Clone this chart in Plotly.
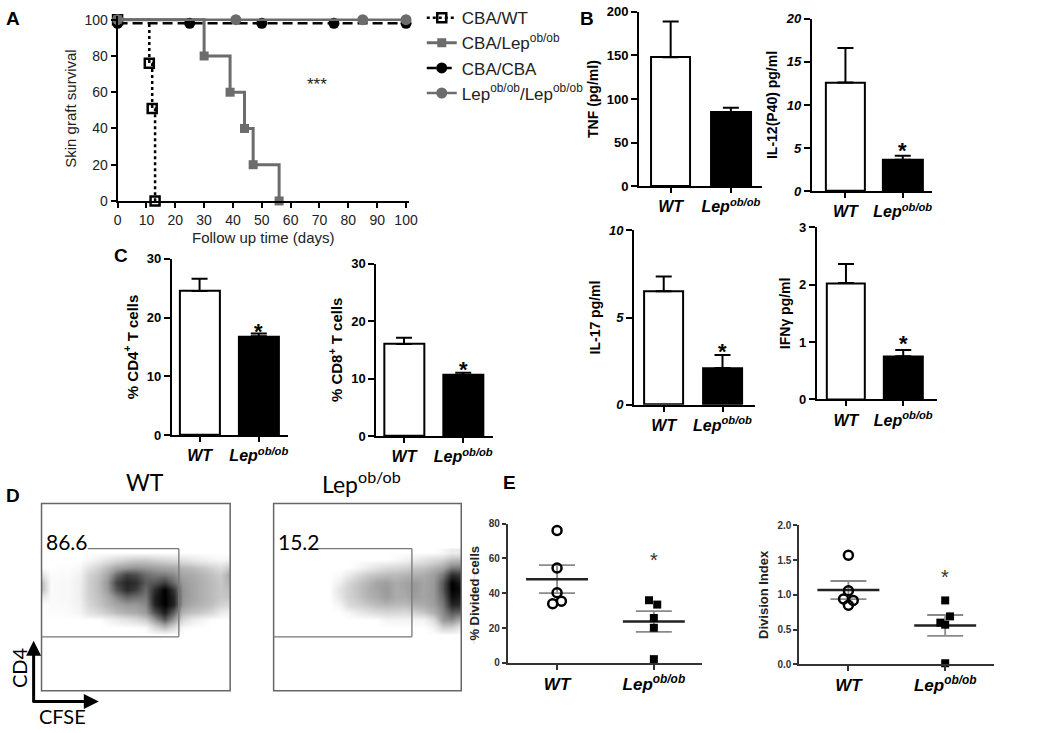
import plotly.graph_objects as go

W, H = 1050, 733
FONT = "Liberation Sans, Arial, sans-serif"

# ---------------- Panel A: skin graft survival ----------------
cba_wt_days = [0, 11, 12, 13]
cba_wt_surv = [100, 76, 51, 0]
cba_lep_days = [0, 30, 39, 44, 47, 56]
cba_lep_surv = [100, 80, 60, 40, 20, 0]
cba_cba_days = [0, 25, 50, 75, 100]
cba_cba_surv = [98, 98, 98, 98, 98]
lep_lep_days = [0, 41, 85, 100]
lep_lep_surv = [100, 100, 100, 100]
a_xticks = [0, 10, 20, 30, 40, 50, 60, 70, 80, 90, 100]
a_yticks = [0, 20, 40, 60, 80, 100]

# ---------------- Panels B, C: bar charts (mean, SEM) ----------------
groups = ["WT", "Lep<sup>ob/ob</sup>"]
tnf_mean, tnf_sem = [148, 85], [41, 5]
il12_mean, il12_sem = [12.6, 3.65], [4.0, 0.45]
il17_mean, il17_sem = [6.5, 2.1], [0.85, 0.75]
ifng_mean, ifng_sem = [2.03, 0.75], [0.33, 0.11]
cd4_mean, cd4_sem = [24.5, 16.8], [2.1, 0.5]
cd8_mean, cd8_sem = [16.0, 10.6], [1.1, 0.4]
tnf_ticks = [0, 50, 100, 150, 200]
il12_ticks = [0, 5, 10, 15, 20]
il17_ticks = [0, 5, 10]
ifng_ticks = [0, 1, 2, 3]
cd_ticks = [0, 10, 20, 30]

# ---------------- Panel D: flow density (grey level) ----------------
d_u = [0, 5, 10, 15, 20, 25, 30, 35, 40, 45, 50, 55, 60, 65, 70, 75, 80, 85, 90, 95, 100]
d_v = [30, 34, 38, 42, 46, 50, 54, 58, 62, 66, 70, 74]
wt_density = [
    [0] * 21,
    [0, 0, 0, 0, 0, 0, 0, 0, 0, 0, 0, 0.03, 0.2, 0.35, 0.2, 0.03, 0, 0, 0, 0, 0],
    [0, 0, 0, 0, 0, 0, 0, 0.05, 0.1, 0.15, 0.2, 0.28, 0.5, 0.7, 0.5, 0.22, 0.1, 0.05, 0, 0, 0],
    [0, 0.01, 0.01, 0.02, 0.04, 0.15, 0.22, 0.28, 0.35, 0.4, 0.42, 0.5, 0.72, 0.9, 0.68, 0.38, 0.32, 0.28, 0.22, 0.1, 0.05],
    [0, 0.02, 0.02, 0.03, 0.06, 0.22, 0.3, 0.38, 0.45, 0.5, 0.5, 0.55, 0.88, 1.0, 0.88, 0.5, 0.42, 0.38, 0.33, 0.25, 0.2],
    [0.1, 0.02, 0.03, 0.03, 0.08, 0.25, 0.32, 0.42, 0.55, 0.65, 0.62, 0.6, 0.9, 1.0, 0.88, 0.52, 0.45, 0.4, 0.35, 0.3, 0.3],
    [0.35, 0.02, 0.03, 0.03, 0.08, 0.26, 0.35, 0.5, 0.72, 0.85, 0.8, 0.65, 0.85, 1.0, 0.82, 0.52, 0.45, 0.4, 0.35, 0.3, 0.35],
    [0.35, 0.02, 0.03, 0.03, 0.08, 0.26, 0.35, 0.52, 0.78, 0.88, 0.85, 0.7, 0.72, 0.8, 0.65, 0.5, 0.45, 0.4, 0.35, 0.3, 0.4],
    [0.15, 0.01, 0.02, 0.02, 0.06, 0.24, 0.32, 0.45, 0.65, 0.78, 0.75, 0.65, 0.6, 0.6, 0.55, 0.45, 0.42, 0.38, 0.33, 0.28, 0.45],
    [0, 0, 0.01, 0.01, 0.03, 0.15, 0.25, 0.35, 0.45, 0.5, 0.52, 0.5, 0.48, 0.45, 0.42, 0.38, 0.35, 0.3, 0.25, 0.18, 0.3],
    [0, 0, 0, 0, 0, 0.03, 0.08, 0.15, 0.2, 0.25, 0.28, 0.28, 0.25, 0.22, 0.2, 0.15, 0.12, 0.08, 0.05, 0.03, 0.05],
    [0] * 21,
]
lep_density = [
    [0] * 21,
    [0, 0, 0, 0, 0, 0, 0, 0, 0, 0, 0, 0, 0, 0, 0, 0, 0, 0.05, 0.25, 0.25, 0.1],
    [0, 0, 0, 0, 0, 0, 0, 0, 0, 0, 0, 0, 0.05, 0.05, 0.05, 0.05, 0.05, 0.2, 0.5, 0.55, 0.4],
    [0, 0, 0, 0, 0, 0, 0, 0, 0.03, 0.1, 0.15, 0.2, 0.22, 0.22, 0.2, 0.25, 0.3, 0.4, 0.55, 0.7, 0.65],
    [0, 0, 0, 0, 0, 0, 0, 0.05, 0.2, 0.25, 0.3, 0.35, 0.38, 0.35, 0.35, 0.4, 0.42, 0.48, 0.6, 0.88, 0.85],
    [0, 0, 0, 0, 0, 0, 0, 0.12, 0.25, 0.3, 0.38, 0.42, 0.48, 0.42, 0.42, 0.48, 0.45, 0.5, 0.65, 0.95, 0.9],
    [0, 0, 0, 0, 0, 0, 0, 0.15, 0.25, 0.32, 0.4, 0.45, 0.5, 0.42, 0.45, 0.5, 0.45, 0.5, 0.7, 1.0, 0.95],
    [0, 0, 0, 0, 0, 0, 0, 0.08, 0.22, 0.3, 0.38, 0.45, 0.48, 0.42, 0.45, 0.5, 0.45, 0.5, 0.7, 1.0, 0.9],
    [0, 0, 0, 0, 0, 0, 0, 0.02, 0.1, 0.2, 0.28, 0.32, 0.35, 0.35, 0.38, 0.4, 0.42, 0.48, 0.6, 0.85, 0.8],
    [0, 0, 0, 0, 0, 0, 0, 0, 0, 0.03, 0.1, 0.15, 0.2, 0.22, 0.25, 0.3, 0.32, 0.38, 0.45, 0.6, 0.6],
    [0, 0, 0, 0, 0, 0, 0, 0, 0, 0, 0, 0, 0, 0.02, 0.05, 0.1, 0.15, 0.2, 0.25, 0.35, 0.35],
    [0, 0, 0, 0, 0, 0, 0, 0, 0, 0, 0, 0, 0, 0, 0, 0, 0, 0, 0.03, 0.1, 0.1],
]
wt_gate_pct = "86.6"
lep_gate_pct = "15.2"

# ---------------- Panel E: individual mice ----------------
div_wt = [76, 54.5, 40.3, 34, 35.4]
div_wt_jit = [0, 0, 0, -0.045, 0.045]
div_lep = [36, 33.5, 25.8, 20.2, 2.2]
div_lep_jit = [-0.05, 0.035, 0, 0, 0]
div_mean, div_sem = [48.1, 23.8], [8.0, 6.0]
di_wt = [1.57, 1.06, 0.94, 0.85, 0.92]
di_wt_jit = [0, 0, -0.05, 0, 0.05]
di_lep = [0.92, 0.69, 0.60, 0.57, 0.015]
di_lep_jit = [0, 0.05, -0.05, 0, 0]
di_mean, di_sem = [1.07, 0.56], [0.13, 0.15]
div_ticks = [0, 20, 40, 60, 80]
di_ticks = [0, 0.5, 1.0, 1.5, 2.0]


def xd(a, b):
    return [a / W, b / W]


def yd(top, bottom):
    return [1 - bottom / H, 1 - top / H]


def px(x):
    return x / W


def py(y):
    return 1 - y / H


fig = go.Figure()
layout = dict(width=W, height=H, autosize=False, margin=dict(l=0, r=0, t=0, b=0),
              plot_bgcolor="white", paper_bgcolor="white",
              font=dict(family=FONT, color="black"), showlegend=True)
annotations = []
shapes = []


def axis(**kw):
    d = dict(showline=True, linecolor="black", linewidth=2, ticks="outside",
             tickcolor="black", tickwidth=2, ticklen=6, showgrid=False,
             zeroline=False, fixedrange=True)
    d.update(kw)
    return d


def label(x, y, text, size, family=FONT, angle=0, color="black"):
    annotations.append(dict(x=px(x), y=py(y), xref="paper", yref="paper", text=text,
                            showarrow=False, xanchor="center", yanchor="middle", textangle=angle,
                            font=dict(size=size, family=family, color=color)))


# ---------- Panel A ----------
AG = "#6c6c6c"
fig.add_trace(go.Scatter(x=cba_wt_days, y=cba_wt_surv, mode="lines+markers", name="CBA/WT",
                         cliponaxis=False,
                         line=dict(color="black", width=2.5, dash="3px,3px", shape="hv"),
                         marker=dict(symbol="square-open", size=9, color="black", line=dict(width=2.5))))
fig.add_trace(go.Scatter(x=cba_lep_days, y=cba_lep_surv, mode="lines+markers",
                         name="CBA/Lep<sup>ob/ob</sup>", cliponaxis=False,
                         line=dict(color=AG, width=3, shape="hv"),
                         marker=dict(symbol="square", size=9, color=AG)))
fig.add_trace(go.Scatter(x=cba_cba_days, y=cba_cba_surv, mode="lines+markers", name="CBA/CBA",
                         cliponaxis=False,
                         line=dict(color="black", width=2.5, dash="10px,5px"),
                         marker=dict(symbol="circle", size=11, color="black")))
fig.add_trace(go.Scatter(x=lep_lep_days, y=lep_lep_surv, mode="lines+markers",
                         name="Lep<sup>ob/ob</sup>/Lep<sup>ob/ob</sup>", cliponaxis=False,
                         line=dict(color=AG, width=2.5),
                         marker=dict(symbol="circle", size=11, color=AG)))
layout["xaxis"] = axis(domain=xd(115, 410), range=[0, 101], anchor="y", tickvals=a_xticks,
                       tickfont=dict(size=14, color="#222"), ticklen=5,
                       title=dict(text="Follow up time (days)", font=dict(size=15, color="#222"), standoff=6))
layout["yaxis"] = axis(domain=yd(9.3, 198), range=[0, 102], anchor="x", tickvals=a_yticks,
                       tickfont=dict(size=14, color="#222"), ticklen=5,
                       title=dict(text="Skin graft survival", font=dict(size=15, color="#222"), standoff=4))
annotations.append(dict(x=69, y=64, xref="x", yref="y", text="***", showarrow=False,
                        font=dict(size=17, color="#222")))
layout["legend"] = dict(x=px(423), y=1 + 7 / H, xanchor="left", yanchor="top",
                        font=dict(size=17, color="#222"), tracegroupgap=0, itemwidth=30,
                        bgcolor="rgba(0,0,0,0)")

# ---------- Bar panels ----------
bar_specs = [
    (2, tnf_mean, tnf_sem, "<b>TNF (pg/ml)</b>", (643, 768), (5, 183), [0, 200], tnf_ticks, False, [-0.525, 1.525], 0.66, None),
    (3, il12_mean, il12_sem, "<b>IL-12(P40) pg/ml</b>", (818, 940), (12, 188), [0, 20], il12_ticks, True, [-0.586, 1.517], 0.69, 5.3),
    (4, il17_mean, il17_sem, "<b>IL-17 pg/ml</b>", (638, 760), (228, 406), [0, 10], il17_ticks, True, [-0.504, 1.546], 0.67, 3.35),
    (5, ifng_mean, ifng_sem, "<b>IFNγ pg/ml</b>", (823, 945), (225, 400.5), [0, 3], ifng_ticks, False, [-0.509, 1.595], 0.67, 1.06),
    (6, cd4_mean, cd4_sem, "<b>% CD4<sup>+</sup> T cells</b>", (170, 288), (257, 437), [0, 30], cd_ticks, False, [-0.467, 1.5], 0.67, 18.4),
    (7, cd8_mean, cd8_sem, "<b>% CD8<sup>+</sup> T cells</b>", (377, 495), (262, 438), [0, 30], cd_ticks, False, [-0.467, 1.5], 0.67, 12.4),
]
xlab = ["<b><i>%s</i></b>" % g for g in groups]
for n, mean, sem, title, xp, yp, yr, ticks, ital, xr, bw, star in bar_specs:
    fig.add_trace(go.Bar(x=[0, 1], y=mean, width=bw, xaxis="x%d" % n, yaxis="y%d" % n,
                         showlegend=False,
                         marker=dict(color=["white", "black"], line=dict(color="black", width=2)),
                         error_y=dict(type="data", symmetric=False, array=sem, arrayminus=[0, 0],
                                      color="black", thickness=2, width=8)))
    fmt = "<b><i>%s</i></b>" if ital else "<b>%s</b>"
    title_size = 15 if n >= 6 else 14
    layout["xaxis%d" % n] = axis(domain=xd(*xp), range=xr, anchor="y%d" % n, tickvals=[0, 1],
                                 ticktext=xlab, tickfont=dict(size=16), ticklen=5)
    layout["yaxis%d" % n] = axis(domain=yd(*yp), range=yr, anchor="x%d" % n, tickvals=ticks,
                                 ticktext=[fmt % t for t in ticks], tickfont=dict(size=13),
                                 title=dict(text=title, font=dict(size=title_size), standoff=5))
    if star is not None:
        annotations.append(dict(x=1, y=star, xref="x%d" % n, yref="y%d" % n, text="<b>*</b>",
                                showarrow=False, font=dict(size=22), yshift=-5))

# ---------- Panel D ----------
cs = [[0, "white"], [0.04, "#f6f6f6"], [0.25, "#d2d2d2"], [0.5, "#9a9a9a"], [0.8, "#3c3c3c"], [1, "black"]]
LATO = "Lato, Liberation Sans, sans-serif"
for n, z, (x0, x1), gate_r, pct in [(8, wt_density, (38, 229), 0.728, wt_gate_pct),
                                    (9, lep_density, (273, 463), 0.737, lep_gate_pct)]:
    fig.add_trace(go.Heatmap(x=d_u, y=d_v, z=z, colorscale=cs, zmin=0, zmax=1, showscale=False,
                             zsmooth="best", xaxis="x%d" % n, yaxis="y%d" % n, hoverinfo="skip"))
    layout["xaxis%d" % n] = dict(domain=xd(x0, x1), range=[0, 100], anchor="y%d" % n, visible=False,
                                 fixedrange=True)
    layout["yaxis%d" % n] = dict(domain=yd(507, 698), range=[0, 100], anchor="x%d" % n, visible=False,
                                 fixedrange=True)
    xr_, yr_ = "x%d domain" % n, "y%d domain" % n
    shapes.append(dict(type="rect", xref=xr_, yref=yr_, x0=0, x1=1, y0=0, y1=1,
                       line=dict(color="#666", width=1.5), layer="above"))
    gy0, gy1 = (698 - 643) / 191, (698 - 553) / 191
    text_end = 0.245 if n == 8 else 0.237
    shapes.append(dict(type="line", xref=xr_, yref=yr_, x0=text_end, x1=gate_r, y0=gy1, y1=gy1,
                       line=dict(color="#777", width=1.3), layer="above"))
    shapes.append(dict(type="line", xref=xr_, yref=yr_, x0=gate_r, x1=gate_r, y0=gy0, y1=gy1,
                       line=dict(color="#777", width=1.3), layer="above"))
    shapes.append(dict(type="line", xref=xr_, yref=yr_, x0=0, x1=gate_r, y0=gy0, y1=gy0,
                       line=dict(color="#777", width=1.3), layer="above"))
    annotations.append(dict(x=0.015, y=(698 - 546) / 191, xref=xr_, yref=yr_, text=pct,
                            showarrow=False, xanchor="left", yanchor="middle",
                            font=dict(size=21, family=LATO)))
shapes.append(dict(type="line", xref="paper", yref="paper", x0=px(476), x1=px(476), y0=py(650), y1=py(565),
                   line=dict(color="#d8d8d8", width=1)))
label(143, 485, "WT", 23, LATO)
label(362, 485, "Lep<sup>ob/ob</sup>", 23, LATO)
# axes arrows
annotations.append(dict(x=px(30), y=py(647), xref="paper", yref="paper", ax=0, ay=63,
                        text="", showarrow=True, arrowhead=2, xanchor="center", yanchor="middle",
                        arrowsize=1, arrowwidth=3, arrowcolor="black"))
annotations.append(dict(x=px(96), y=py(709), xref="paper", yref="paper", ax=-67.5, ay=0,
                        text="", showarrow=True, arrowhead=2, xanchor="center", yanchor="middle",
                        arrowsize=1, arrowwidth=3, arrowcolor="black"))
label(15, 674, "CD4", 20, LATO, angle=-90)
label(59, 724, "CFSE", 20, LATO)

# ---------- Panel E ----------
EG = "#8a8a8a"
for n, wt, wtj, lep, lepj, mean, sem, xp, yp, yr, ticks, tfmt, title, star in [
    (10, div_wt, div_wt_jit, div_lep, div_lep_jit, div_mean, div_sem, (510, 707), (527.3, 669.7),
     [0, 80], div_ticks, "%g", "<b>% Divided cells</b>", 61.2),
    (11, di_wt, di_wt_jit, di_lep, di_lep_jit, di_mean, di_sem, (805, 1002), (529.3, 671),
     [0, 2.0], di_ticks, "%.1f", "<b>Division Index</b>", 1.31),
]:
    xa, ya = "x%d" % n, "y%d" % n
    fig.add_trace(go.Scatter(x=[0, 1], y=mean, mode="markers", marker=dict(size=1, color="rgba(0,0,0,0)"),
                             error_y=dict(type="data", array=sem, color=EG, thickness=1.8, width=18),
                             xaxis=xa, yaxis=ya, showlegend=False, hoverinfo="skip"))
    fig.add_trace(go.Scatter(x=[-0.32, 0.32, None, 0.68, 1.32], y=[mean[0], mean[0], None, mean[1], mean[1]],
                             mode="lines", line=dict(color="#222", width=2.5), xaxis=xa, yaxis=ya,
                             showlegend=False, hoverinfo="skip"))
    fig.add_trace(go.Scatter(x=[0 + j for j in wtj], y=wt, mode="markers", xaxis=xa, yaxis=ya,
                             showlegend=False, cliponaxis=False,
                             marker=dict(symbol="circle-open", size=9, color="black", line=dict(width=2.5))))
    fig.add_trace(go.Scatter(x=[1 + j for j in lepj], y=lep, mode="markers", xaxis=xa, yaxis=ya,
                             showlegend=False, cliponaxis=False,
                             marker=dict(symbol="square", size=8, color="black")))
    layout["xaxis%d" % n] = axis(domain=xd(*xp), range=[-0.51, 1.5], anchor=ya, tickvals=[0, 1],
                                 ticktext=xlab, tickfont=dict(size=17), ticklen=5, linewidth=1.5,
                                 tickwidth=1.5, linecolor="#333", tickcolor="#333")
    layout["yaxis%d" % n] = axis(domain=yd(*yp), range=yr, anchor=xa, tickvals=ticks,
                                 ticktext=["<b>%s</b>" % (tfmt % t) for t in ticks],
                                 tickfont=dict(size=10, color="#333"), ticklen=4, linewidth=1.5,
                                 tickwidth=1.5, linecolor="#333", tickcolor="#333",
                                 title=dict(text=title, font=dict(size=13, color="#222"), standoff=6))
    annotations.append(dict(x=1, y=star, xref=xa, yref=ya, text="*", showarrow=False,
                            font=dict(size=20, color="#333"), yshift=-4))

# ---------- panel letters ----------
for letter, x, y in [("A", 9, 12), ("B", 590, 12), ("C", 118, 254), ("D", 9, 499), ("E", 512, 485)]:
    label(x, y, "<b>%s</b>" % letter, 19)

layout["annotations"] = annotations
layout["shapes"] = shapes
layout["bargap"] = 0
fig.update_layout(**layout)
fig.write_html("out.html", config={"displayModeBar": False},
               post_script="document.body.style.margin='0px';document.body.style.overflow='hidden';")
